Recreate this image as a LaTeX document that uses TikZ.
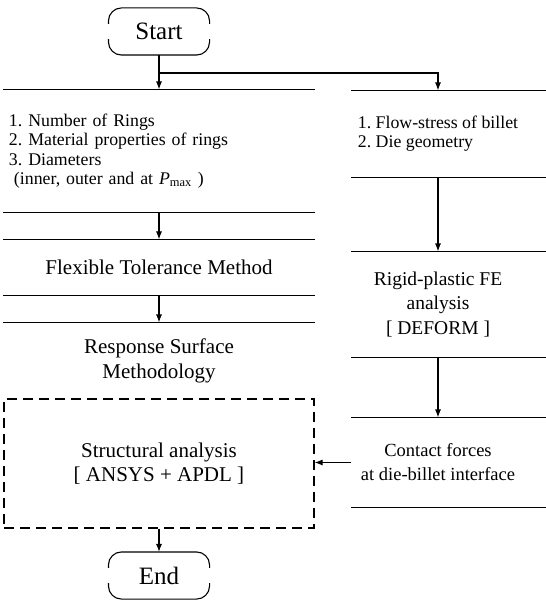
\documentclass[tikz,border=0pt]{standalone}
\usepackage{fontspec}
\setmainfont{Liberation Serif}
\usepackage{tikz}
\usetikzlibrary{arrows}
\usetikzlibrary{arrows.meta}
\usetikzlibrary{positioning}

\tikzset{
  leftcol/.style={rectangle, inner sep=0pt, minimum width=310, align=center},
  rightcol/.style={rectangle, inner sep=0pt, minimum width=172, align=center},
  term/.style={rectangle, inner sep=0pt, minimum width=100, minimum height=46,
    font=\fontsize{25}{28}\selectfont},
  bigtxt/.style={font=\fontsize{21}{24.5}\selectfont},
  smalltxt/.style={font=\fontsize{17.8}{19.3}\selectfont},
}

\begin{document}
\frenchspacing
\begin{tikzpicture}[x=1pt, y=-1pt, line width=1.1pt, >={Latex[length=8pt,width=6pt]}]
\useasboundingbox (0,0) rectangle (545,601);

% left column
\node [term] (start) at (159,31.5) {Start};
\node [leftcol, smalltxt, text width=300, inner xsep=5, align=left, minimum height=122] (inputs) at (159,151)
  {1. Number of Rings\\2. Material properties of rings\\3. Diameters\\
   \hspace*{5pt}(inner, outer and at \textit{P}\textsubscript{max} )};
\node [leftcol, bigtxt, minimum height=55] (ftm) at (159,267.5) {Flexible Tolerance Method};
\node [leftcol, bigtxt, minimum height=76] (rsm) at (159,361) {Response Surface\\Methodology};
\node [leftcol, bigtxt, minimum height=129, draw=black, dashed, dash pattern=on 10pt off 6pt] (sa) at (159,463.5)
  {Structural analysis\\{[} ANSYS + APDL ]};
\node [term] (stop) at (159,575.5) {End};

% right column
\node [rightcol, smalltxt, align=left, minimum height=86] (fs) at (438,134)
  {1. Flow-stress of billet\\2. Die geometry};
\node [rightcol, font=\fontsize{19.5}{24.5}\selectfont, minimum height=105] (fe) at (438,304.5)
  {Rigid-plastic FE\\analysis\\{[} DEFORM ]};
\node [rightcol, font=\fontsize{18.5}{24}\selectfont, minimum height=89] (cf) at (438,462.5)
  {Contact forces\\at die-billet interface};

% terminals
\draw [rounded corners=13] ([yshift=-16]start.north west) -- (start.north west) -- (start.north east) -- ([yshift=-16]start.north east);
\draw [rounded corners=13] ([yshift=16]start.south west) -- (start.south west) -- (start.south east) -- ([yshift=16]start.south east);
\draw [rounded corners=13] ([yshift=-16]stop.north west) -- (stop.north west) -- (stop.north east) -- ([yshift=-16]stop.north east);
\draw [rounded corners=13] ([yshift=16]stop.south west) -- (stop.south west) -- (stop.south east) -- ([yshift=16]stop.south east);

% open boxes
\draw (inputs.north west) -- (inputs.north east);
\draw (inputs.south west) -- (inputs.south east);
\draw (ftm.north west) -- (ftm.north east);
\draw (ftm.south west) -- (ftm.south east);
\draw (rsm.north west) -- (rsm.north east);
\draw (fs.north west) -- ([xshift=21]fs.north east);
\draw (fs.south west) -- ([xshift=21]fs.south east);
\draw (fe.north west) -- ([xshift=21]fe.north east);
\draw (fe.south west) -- ([xshift=21]fe.south east);
\draw (cf.north west) -- ([xshift=21]cf.north east);
\draw (cf.south west) -- ([xshift=21]cf.south east);

% flow
\coordinate (split) at (159,73);
\draw [->] (start.south) -- (inputs.north);
\draw [->] (split) -| (fs.north);
\draw [->] (inputs.south) -- (ftm.north);
\draw [->] (ftm.south) -- (rsm.north);
\draw [->] (sa.south) -- (stop.north);
\draw [->] (fs.south) -- (fe.north);
\draw [->] (fe.south) -- (cf.north);
\draw [->] (cf.west) -- (cf.west -| sa.east);
\end{tikzpicture}
\end{document}
